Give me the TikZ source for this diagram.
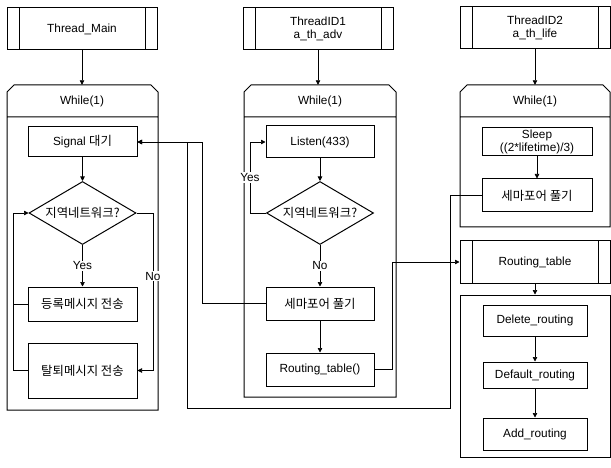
\documentclass[tikz,border=0pt]{standalone}
\usepackage{fontspec}
\setmainfont{Liberation Sans}
\newfontfamily\kr{Noto Sans CJK KR}[Scale=1.05]
\usetikzlibrary{shapes.geometric,arrows.meta}

\tikzset{
	box/.style={draw, line width=1pt, inner sep=1pt, align=center},
	subr/.style={box, minimum width=150pt, minimum height=42pt},
	dec/.style={diamond, draw, line width=1pt, aspect=1.7, inner sep=0pt,
		minimum width=107pt, minimum height=63pt},
	conn/.style={line width=0.7pt},
	arr/.style={conn, -{Triangle[length=4.5pt, width=4.5pt]}},
	lbl/.style={fill=white, inner sep=1pt}
}

\begin{document}
\begin{tikzpicture}[x=1pt, y=-1pt, font=\fontsize{11.8}{12.5}\selectfont]
	\useasboundingbox (0,0) rectangle (611,468);
	
	% Thread_Main
	\node[subr] (tmain) at (82,29) {Thread\_Main};
	\draw[line width=1pt] (7,117) -- (7,92) -- (14,85) -- (151,85) -- (158,92)
	-- (158,410) -- (7,410) -- cycle (7,117) -- (158,117);
	\node[minimum width=150pt, minimum height=32pt] (whL) at (82,101) {While(1)};
	\node[box, minimum width=109pt, minimum height=30pt] (sigL) at (82.5,142) {Signal {\kr 대기}};
	\node[dec] (decL) at (82.5,213) {\kr 지역네트워크?};
	\node[box, minimum width=109pt, minimum height=34pt] (regL) at (82.5,304) {\kr 등록메시지 전송};
	\node[box, minimum width=109pt, minimum height=55pt] (quitL) at (82.5,370.5) {\kr 탈퇴메시지 전송};
	\draw[arr] (tmain) -- (whL);
	\draw[arr] (sigL) -- (decL);
	\draw[arr] (decL) -- node[lbl, pos=0.5] {Yes} (regL);
	\draw[arr] (decL.east) -- (153,213) -- node[lbl, pos=0.4] {No} (153,370.5) -- (quitL.east);
	\draw[conn] (regL.west) -- (13,304);
	\draw[arr] (quitL.west) -- (13,370.5) -- (13,213) -- (decL.west);
	
	% ThreadID1
	\node[subr] (tid1) at (318,29) {ThreadID1\\a\_th\_adv};
	\draw[line width=1pt] (244,117) -- (244,92) -- (251,85) -- (389,85) -- (396,92)
	-- (396,397) -- (244,397) -- cycle (244,117) -- (396,117);
	\node[minimum width=150pt, minimum height=32pt] (whM) at (320,101) {While(1)};
	\node[box, minimum width=108pt, minimum height=32pt] (listen) at (320,142) {Listen(433)};
	\node[dec] (decM) at (320,213) {\kr 지역네트워크?};
	\node[box, minimum width=108pt, minimum height=33pt] (semM) at (320,303.5) {\kr 세마포어 풀기};
	\node[box, minimum width=108pt, minimum height=33pt] (rtM) at (320,369.5) {Routing\_table()};
	\draw[arr] (tid1.south) -- (tid1.south |- whM.north);
	\draw[arr] (listen) -- (decM);
	\draw[arr] (decM.west) -- (250,213) -- node[lbl, pos=0.5] {Yes} (250,142) -- (listen.west);
	\draw[arr] (decM) -- node[lbl, pos=0.5] {No} (semM);
	\draw[arr] (semM) -- (rtM);
	
	% ThreadID2
	\node[subr] (tid2) at (535,28) {ThreadID2\\a\_th\_life};
	\draw[line width=1pt] (460,117) -- (460,92) -- (467,85) -- (603,85) -- (610,92)
	-- (610,227) -- (460,227) -- cycle (460,117) -- (610,117);
	\node[minimum width=150pt, minimum height=32pt] (whR) at (535,101) {While(1)};
	\node[box, minimum width=110pt, minimum height=28pt, inner sep=0pt] (sleep) at (537,142) {Sleep\\((2*lifetime)/3)};
	\node[box, minimum width=110pt, minimum height=33pt] (semR) at (537,195.5) {\kr 세마포어 풀기};
	\draw[arr] (tid2) -- (whR);
	\draw[arr] (sleep) -- (semR);
	
	% Routing_table
	\node[subr, minimum height=43pt] (rtab) at (535,262) {Routing\_table};
	\node[box, minimum width=150pt, minimum height=162pt] (rbox) at (535,376) {};
	\node[box, minimum width=104pt, minimum height=31pt] (del) at (535,320.5) {Delete\_routing};
	\node[box, minimum width=104pt, minimum height=26pt] (dflt) at (535,375) {Default\_routing};
	\node[box, minimum width=104pt, minimum height=32pt] (add) at (535,434) {Add\_routing};
	\draw[arr] (rtab) -- (rbox);
	\draw[arr] (del) -- (dflt);
	\draw[arr] (dflt) -- (add);
	
	% Unterprogrammkasten
	\foreach \n in {tmain,tid1,tid2,rtab}
	\draw[line width=1pt] ([xshift=13pt]\n.north west) -- ([xshift=13pt]\n.south west)
	([xshift=-12pt]\n.north east) -- ([xshift=-12pt]\n.south east);
	
	% Semaphore
	\draw[arr] (semR.west) -- (450,195.5) -- (450,408) -- (187,408) -- (187,142) -- (sigL.east);
	\draw[arr] (semM.west) -- (202,303.5) -- (202,142) -- (sigL.east);
	\draw[arr] (rtM.east) -- (392,369.5) -- (392,262) -- (rtab.west);
	
\end{tikzpicture}
\end{document}
